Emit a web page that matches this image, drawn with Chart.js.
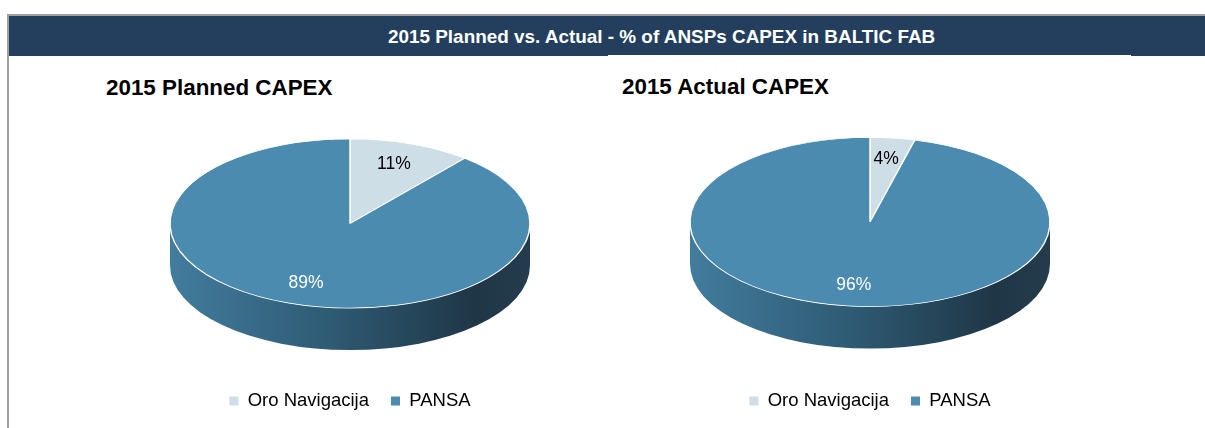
<!DOCTYPE html>
<html>
<head>
<meta charset="utf-8">
<script src="https://cdn.jsdelivr.net/npm/chart.js@4.4.1/dist/chart.umd.min.js"></script>
<style>
  html, body { margin: 0; padding: 0; background: #fff; overflow: hidden; }
  body { width: 1205px; height: 428px; position: relative; font-family: Arial, "Liberation Sans", sans-serif; }
  #frame { position: absolute; left: 7px; top: 14px; width: 1198px; height: 414px; border-left: 2px solid #a0a0a0; border-top: 2px solid #a0a0a0; box-sizing: border-box; }
  #header { position: absolute; left: 9px; top: 16px; width: 1196px; height: 40px; background: #243f5e; }
  #header span { position: absolute; left: 379px; top: 12px; color: #fff; font-weight: bold; font-size: 18.9px; line-height: 1; white-space: nowrap; }
  #header i { position: absolute; left: 599px; top: 39px; width: 523px; height: 1px; background: #fff; }
  .title { position: absolute; font-weight: bold; font-size: 22.4px; line-height: 1; color: #000; white-space: nowrap; }
  canvas { position: absolute; top: 60px; }
</style>
</head>
<body>
<div id="frame"></div>
<div id="header"><span>2015 Planned vs. Actual - % of ANSPs CAPEX in BALTIC FAB</span><i></i></div>
<div class="title" style="left:106px; top:77px;">2015 Planned CAPEX</div>
<div class="title" style="left:622px; top:76px;">2015 Actual CAPEX</div>
<canvas id="plannedPie" width="590" height="380" style="left:9px"></canvas>
<canvas id="actualPie" width="606" height="380" style="left:599px"></canvas>
<script>
// Data
const categories = ['Oro Navigacija', 'PANSA'];
const plannedShare = [11, 89];
const actualShare = [4, 96];
const sliceColours = ['#cddee7', '#4a8baf'];
const labelColours = ['#000000', '#ffffff'];

// fake 3D: squash the pie vertically and draw a side wall under it
const pie3d = {
    id: 'pie3d',
    beforeDatasetsDraw(chart, args, opts) {
        const ctx = chart.ctx;
        const arcs = chart.getDatasetMeta(0).data;
        const cx = arcs[0].x, cy = arcs[0].y, r = arcs[0].outerRadius;
        const k = opts.tilt, depth = opts.depth;

        const grad = ctx.createLinearGradient(cx - r, 0, cx + r, 0);
        grad.addColorStop(0, '#427c9d');
        grad.addColorStop(0.45, '#2e5a73');
        grad.addColorStop(0.85, '#1f3646');
        grad.addColorStop(1, '#243c4d');

        arcs.forEach(a => {
            // only the front half of the wall (0..PI) can be seen
            const s = Math.max(a.startAngle, 0);
            const e = Math.min(a.endAngle, Math.PI);
            if (e <= s) return;
            ctx.beginPath();
            ctx.ellipse(cx, cy, r, r * k, 0, s, e, false);
            ctx.ellipse(cx, cy + depth, r, r * k, 0, e, s, true);
            ctx.closePath();
            ctx.fillStyle = grad;
            ctx.fill();
        });

        ctx.save();
        ctx.translate(cx, cy);
        ctx.scale(1, k);
        ctx.translate(-cx, -cy);
    },
    afterDatasetsDraw(chart, args, opts) {
        const ctx = chart.ctx;
        ctx.restore();
        const arcs = chart.getDatasetMeta(0).data;
        const values = chart.data.datasets[0].data;
        const k = opts.tilt;
        ctx.save();
        ctx.font = '17.5px Arial, "Liberation Sans", sans-serif';
        ctx.textAlign = 'center';
        ctx.textBaseline = 'middle';
        arcs.forEach((a, i) => {
            const mid = (a.startAngle + a.endAngle) / 2;
            const x = a.x + Math.cos(mid) * a.outerRadius * 0.72;
            const y = a.y + Math.sin(mid) * a.outerRadius * 0.75 * k;
            ctx.fillStyle = labelColours[i];
            ctx.fillText(values[i] + '%', x, y);
        });
        ctx.restore();
    }
};

function makePie(id, values, padding) {
    return new Chart(document.getElementById(id).getContext('2d'), {
        type: 'pie',
        data: {
            labels: categories,
            datasets: [{
                data: values,
                backgroundColor: sliceColours,
                borderColor: '#ffffff',
                borderWidth: 1.5,
                radius: 180,
                clip: false
            }]
        },
        options: {
            responsive: false,
            animation: false,
            events: [],
            layout: { padding: padding },
            plugins: {
                tooltip: { enabled: false },
                legend: {
                    position: 'bottom',
                    labels: {
                        boxWidth: 9,
                        boxHeight: 9,
                        padding: 22,
                        color: '#000',
                        font: { family: 'Arial, "Liberation Sans", sans-serif', size: 18.5 },
                        generateLabels: chart => chart.data.labels.map((t, i) => ({
                            text: t, fillStyle: sliceColours[i], strokeStyle: sliceColours[i],
                            lineWidth: 0, hidden: false, index: i
                        }))
                    }
                },
                pie3d: { tilt: 0.47, depth: 42 }
            }
        },
        plugins: [pie3d]
    });
}

makePie('plannedPie', plannedShare, { left: 92, right: 0, top: 17.25, bottom: 19.75 });
makePie('actualPie', actualShare, { left: 0, right: 64, top: 14.25, bottom: 19.75 });
</script>
</body>
</html>
